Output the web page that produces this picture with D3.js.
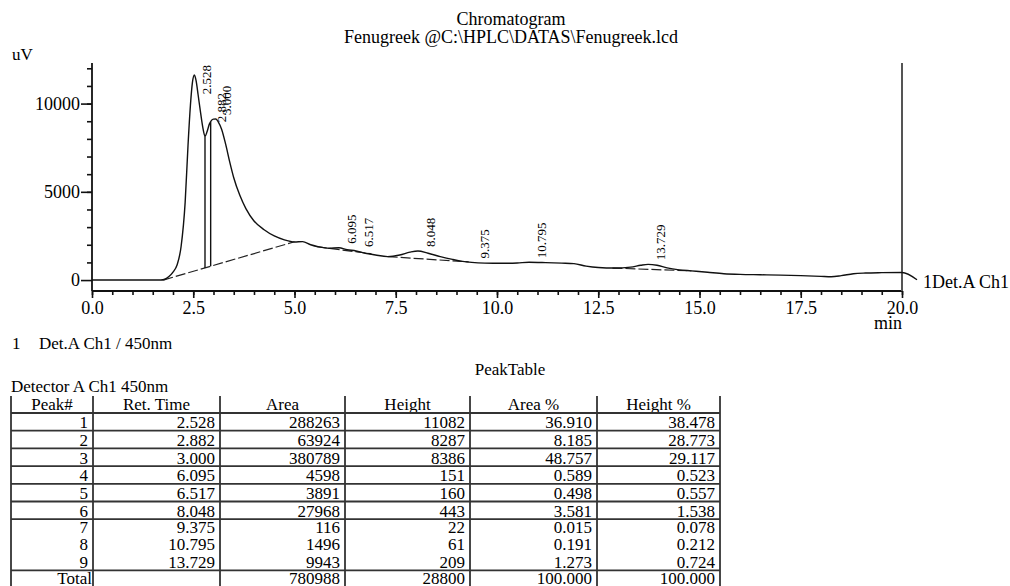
<!DOCTYPE html>
<html>
<head>
<meta charset="utf-8">
<script src="https://cdn.jsdelivr.net/npm/d3@7"></script>
<style>
  html, body { margin: 0; padding: 0; background: #fff; }
  svg { display: block; }
  text { font-family: "Liberation Serif", "Times New Roman", serif; fill: #000; }
</style>
</head>
<body>
<svg id="chart" width="1010" height="586"></svg>
<script>
// ---- Detector trace (min, uV) ----
const traceTime = [0, 1.0, 1.7, 1.78, 1.9, 2.0, 2.1, 2.2, 2.3, 2.37, 2.43, 2.48, 2.528, 2.57, 2.62, 2.68,
  2.74, 2.79, 2.84, 2.9, 2.95, 3.0, 3.06, 3.12, 3.2, 3.3, 3.4, 3.5, 3.65, 3.8, 4.0, 4.25, 4.5, 4.75,
  5.0, 5.2, 5.4, 5.6, 5.85, 6.095, 6.3, 6.517, 6.75, 7.0, 7.3, 7.6, 7.85, 8.048, 8.3, 8.6, 8.9, 9.15,
  9.375, 9.7, 10.1, 10.5, 10.795, 11.2, 11.6, 11.9, 12.2, 12.5, 12.9, 13.3, 13.55, 13.729, 13.95,
  14.2, 14.5, 14.8, 15.2, 15.6, 16.0, 16.5, 17.0, 17.5, 18.0, 18.25, 18.5, 18.8, 19.1, 19.5, 20.0, 20.37];
const traceSignal = [0, 0, 0, 30, 200, 450, 850, 1900, 4400, 7600, 9900, 11200, 11620, 11300, 10500, 9500,
  8600, 8150, 8400, 8850, 9050, 9120, 9130, 8950, 8550, 7700, 6700, 5800, 4800, 4050, 3350, 2850, 2500, 2280,
  2160, 2180, 2000, 1880, 1800, 1830, 1720, 1650, 1520, 1420, 1330, 1420, 1580, 1650, 1520, 1330, 1170, 1060,
  1000, 960, 950, 970, 1010, 990, 960, 930, 790, 710, 680, 730, 840, 890, 840,
  690, 580, 520, 440, 360, 320, 300, 280, 250, 210, 190, 250, 360, 400, 420, 430, 20];

// ---- Integration baselines: [startTime, startSignal, endTime, endSignal] ----
const baselines = [
  [1.76, 0, 5.0, 2170],
  [5.55, 1890, 6.9, 1490],
  [7.3, 1330, 9.3, 1030],
  [12.85, 680, 14.8, 520]
];
// Perpendicular drop lines between co-eluting peaks (min)
const dropTimes = [2.79, 2.93];

// ---- Peak table ----
const peakNums = [1, 2, 3, 4, 5, 6, 7, 8, 9];
const retTimes = [2.528, 2.882, 3.000, 6.095, 6.517, 8.048, 9.375, 10.795, 13.729];
const areas = [288263, 63924, 380789, 4598, 3891, 27968, 116, 1496, 9943];
const heights = [11082, 8287, 8386, 151, 160, 443, 22, 61, 209];
const areaPct = [36.910, 8.185, 48.757, 0.589, 0.498, 3.581, 0.015, 0.191, 1.273];
const heightPct = [38.478, 28.773, 29.117, 0.523, 0.557, 1.538, 0.078, 0.212, 0.724];
const totalRow = ["Total", "", "780988", "28800", "100.000", "100.000"];
const tableHeaders = ["Peak#", "Ret. Time", "Area", "Height", "Area %", "Height %"];

// ---- Axis ticks ----
const xMajorTicks = [0, 2.5, 5, 7.5, 10, 12.5, 15, 17.5, 20];
const yMajorTicks = [0, 5000, 10000];

const svg = d3.select("#chart");

const x = d3.scaleLinear().domain([0, 20]).range([92, 902]);
const y = d3.scaleLinear().domain([-620, 12300]).range([291, 63]);

// Titles
svg.append("text").attr("x", 511).attr("y", 25).attr("text-anchor", "middle")
  .attr("font-size", 18).text("Chromatogram");
svg.append("text").attr("x", 511).attr("y", 43).attr("text-anchor", "middle")
  .attr("font-size", 18).text("Fenugreek @C:\\HPLC\\DATAS\\Fenugreek.lcd");
svg.append("text").attr("x", 12).attr("y", 60).attr("font-size", 17).text("uV");

// Y axis: minor ticks every 1000, labelled majors
const yMinor = d3.range(1000, 12001, 1000);
const gyMinor = svg.append("g").attr("transform", "translate(92,0)")
  .call(d3.axisLeft(y).tickValues(yMinor).tickSize(5).tickSizeOuter(0).tickFormat(""));
const gyMajor = svg.append("g").attr("transform", "translate(92,0)")
  .call(d3.axisLeft(y).tickValues(yMajorTicks).tickSize(11).tickPadding(1).tickSizeOuter(0).tickFormat(d3.format("d")));
[gyMinor, gyMajor].forEach(g => {
  g.select(".domain").remove();
  g.selectAll("line").attr("stroke", "#111").attr("stroke-width", 1.6);
});
gyMajor.selectAll("text").attr("font-size", 18).attr("fill", "#000")
  .style("font-family", "'Liberation Serif', 'Times New Roman', serif");

// X axis: minor ticks every 0.5, labelled majors every 2.5
const xMinor = d3.range(0, 20.01, 0.5);
const axisY = y.range()[0];
const gxMinor = svg.append("g").attr("transform", `translate(0,${axisY})`)
  .call(d3.axisBottom(x).tickValues(xMinor).tickSize(4).tickSizeOuter(0).tickFormat(""));
const gxMajor = svg.append("g").attr("transform", `translate(0,${axisY})`)
  .call(d3.axisBottom(x).tickValues(xMajorTicks).tickSize(7).tickPadding(3).tickSizeOuter(0).tickFormat(d3.format(".1f")));
[gxMinor, gxMajor].forEach(g => {
  g.select(".domain").remove();
  g.selectAll("line").attr("stroke", "#111").attr("stroke-width", 1.6);
});
gxMajor.selectAll("text").attr("font-size", 18).attr("fill", "#000")
  .style("font-family", "'Liberation Serif', 'Times New Roman', serif");

// Axis lines and right frame
svg.append("line").attr("x1", x(0)).attr("x2", x(0)).attr("y1", y.range()[1]).attr("y2", axisY)
  .attr("stroke", "#111").attr("stroke-width", 1.8);
svg.append("line").attr("x1", x(0)).attr("x2", x(20)).attr("y1", axisY).attr("y2", axisY)
  .attr("stroke", "#111").attr("stroke-width", 1.8);
svg.append("line").attr("x1", x(20)).attr("x2", x(20)).attr("y1", y.range()[1]).attr("y2", axisY)
  .attr("stroke", "#555").attr("stroke-width", 2);

svg.append("text").attr("x", 902).attr("y", 329).attr("text-anchor", "end")
  .attr("font-size", 18).text("min");

// Baselines (dashed)
baselines.forEach(b => {
  svg.append("line")
    .attr("x1", x(b[0])).attr("y1", y(b[1])).attr("x2", x(b[2])).attr("y2", y(b[3]))
    .attr("stroke", "#222").attr("stroke-width", 1.2).attr("stroke-dasharray", "10,3");
});

// Signal interpolation for drop lines and labels
const interp = t => {
  const i = d3.bisectRight(traceTime, t);
  if (i <= 0) return traceSignal[0];
  if (i >= traceTime.length) return traceSignal[traceSignal.length - 1];
  const t0 = traceTime[i - 1], t1 = traceTime[i];
  return traceSignal[i - 1] + (traceSignal[i] - traceSignal[i - 1]) * (t - t0) / (t1 - t0);
};
const baseAt = t => {
  const b = baselines.find(b => t >= b[0] && t <= b[2]);
  return b ? b[1] + (b[3] - b[1]) * (t - b[0]) / (b[2] - b[0]) : 0;
};

dropTimes.forEach(t => {
  svg.append("line")
    .attr("x1", x(t)).attr("x2", x(t)).attr("y1", y(baseAt(t))).attr("y2", y(interp(t)))
    .attr("stroke", "#111").attr("stroke-width", 1.4);
});

// Trace
const pts = traceTime.map((t, i) => [t, traceSignal[i]]);
svg.append("path")
  .datum(pts)
  .attr("fill", "none").attr("stroke", "#111").attr("stroke-width", 1.4)
  .attr("d", d3.line().x(d => x(d[0])).y(d => y(d[1])).curve(d3.curveMonotoneX));

svg.append("text").attr("x", 923).attr("y", 288).attr("font-size", 18).text("1Det.A Ch1");

// Retention-time labels, rotated, kept inside the plot frame
const plotTop = y.range()[1] + 2;
retTimes.forEach(rt => {
  const lbl = svg.append("text").attr("font-size", 13).text(rt.toFixed(3));
  const len = lbl.node().getComputedTextLength();
  let bottom = y(interp(rt)) - 4;
  if (bottom - len < plotTop) bottom = plotTop + len;
  lbl.attr("transform", `translate(${x(rt) + 17},${bottom}) rotate(-90)`);
});

// Legend line under the plot
svg.append("text").attr("x", 12).attr("y", 349).attr("font-size", 17).text("1");
svg.append("text").attr("x", 39).attr("y", 349).attr("font-size", 17).text("Det.A Ch1 / 450nm");

// ---- Peak table ----
svg.append("text").attr("x", 510).attr("y", 375).attr("text-anchor", "middle")
  .attr("font-size", 17).text("PeakTable");
svg.append("text").attr("x", 11).attr("y", 392).attr("font-size", 17).text("Detector A Ch1 450nm");

const colX = [11, 93, 220, 345, 470, 597, 720];
const tableTop = 396, headerBottom = 413, tableBottom = 590;
const ruledRow = 17.7, plainRow = 16.7;
const ruleAfter = new Set([0, 1, 2, 3, 4, 5, 8]); // row indices followed by a rule

const rows = peakNums.map((p, i) => [
  String(p), retTimes[i].toFixed(3), String(areas[i]), String(heights[i]),
  areaPct[i].toFixed(3), heightPct[i].toFixed(3)
]);
rows.push(totalRow);

const tbl = svg.append("g");
const lineStyle = sel => sel.attr("stroke", "#333").attr("stroke-width", 1.8);

// Header
tableHeaders.forEach((h, c) => {
  tbl.append("text").attr("x", (colX[c] + colX[c + 1]) / 2).attr("y", headerBottom - 3)
    .attr("text-anchor", "middle").attr("font-size", 17).text(h);
});
tbl.append("line").attr("x1", colX[0]).attr("x2", colX[6]).attr("y1", headerBottom).attr("y2", headerBottom)
  .call(lineStyle);

let rowTop = headerBottom;
rows.forEach((r, i) => {
  const h = ruleAfter.has(i) ? ruledRow : plainRow;
  const rowBottom = rowTop + h;
  const baseline = Math.min(rowBottom - 2.5, 584);
  r.forEach((v, c) => {
    if (v === "") return;
    tbl.append("text").attr("x", colX[c + 1] - (i === rows.length - 1 && c === 0 ? 1 : 5))
      .attr("y", baseline).attr("text-anchor", "end").attr("font-size", 17).text(v);
  });
  if (ruleAfter.has(i)) {
    tbl.append("line").attr("x1", colX[0]).attr("x2", colX[6]).attr("y1", rowBottom).attr("y2", rowBottom)
      .call(lineStyle);
  }
  rowTop = rowBottom;
});

colX.forEach(cx => {
  tbl.append("line").attr("x1", cx).attr("x2", cx).attr("y1", tableTop).attr("y2", tableBottom)
    .call(lineStyle);
});
</script>
</body>
</html>
